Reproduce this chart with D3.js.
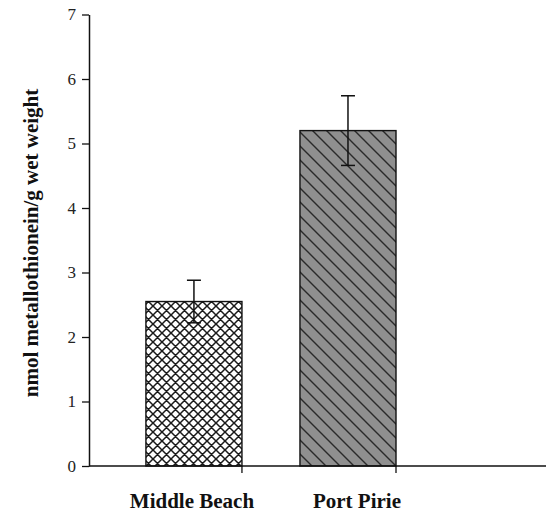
<!DOCTYPE html>
<html>
<head>
<meta charset="utf-8">
<script src="https://cdn.jsdelivr.net/npm/d3@7"></script>
<style>
    body { margin: 0; background: #fff; }
    text { font-family: 'Liberation Serif', 'Times New Roman', serif; }
</style>
</head>
<body>
<svg id="chart" width="546" height="515"></svg>
<script>
const sites = ['Middle Beach', 'Port Pirie'];
const means = [2.55, 5.2];
const errors = [0.33, 0.54];
const yTicks = [0, 1, 2, 3, 4, 5, 6, 7];

const svg = d3.select('#chart');
const defs = svg.append('defs');

// crosshatch for Middle Beach
const cross = defs.append('pattern')
    .attr('id', 'cross')
    .attr('patternUnits', 'userSpaceOnUse')
    .attr('width', 9)
    .attr('height', 9);
cross.append('rect').attr('width', 9).attr('height', 9).attr('fill', '#fff');
cross.append('path')
    .attr('d', 'M0,0L9,9M9,0L0,9M-1,8L1,10M8,-1L10,1M-1,1L1,-1M8,10L10,8')
    .attr('stroke', '#1a1a1a')
    .attr('stroke-width', 1.5);

// diagonal hatch on grey for Port Pirie
const hatch = defs.append('pattern')
    .attr('id', 'hatch')
    .attr('patternUnits', 'userSpaceOnUse')
    .attr('width', 14)
    .attr('height', 14);
hatch.append('rect').attr('width', 14).attr('height', 14).attr('fill', '#8f8f8f');
hatch.append('path')
    .attr('d', 'M0,0L14,14M-7,7L7,21M7,-7L21,7')
    .attr('stroke', '#2a2a2a')
    .attr('stroke-width', 1.4);

const fills = ['url(#cross)', 'url(#hatch)'];

const y = d3.scaleLinear().domain([0, 7]).range([466, 14.5]);

const x = d3.scaleBand()
    .domain(sites)
    .range([88, 396])
    .paddingInner(0.3766)
    .paddingOuter(0.188)
    .align(1);

// y axis
const axisY = d3.axisLeft(y)
    .tickValues(yTicks)
    .tickFormat(d3.format('d'))
    .tickSizeInner(7)
    .tickSizeOuter(0)
    .tickPadding(6);

const gy = svg.append('g')
    .attr('class', 'axis axis-y')
    .attr('transform', 'translate(89,0)')
    .call(axisY)
    .attr('font-family', null)
    .attr('font-size', null);
gy.select('.domain').attr('stroke', '#111').attr('stroke-width', 1.5);
gy.selectAll('.tick line').attr('stroke', '#111').attr('stroke-width', 1.3);
gy.selectAll('.tick text')
    .attr('font-size', 17)
    .attr('fill', '#222');

// bars
const data = sites.map((s, i) => ({ site: s, mean: means[i], err: errors[i], fill: fills[i] }));

svg.append('g').selectAll('rect')
    .data(data)
    .enter()
    .append('rect')
    .attr('x', (d) => x(d.site))
    .attr('y', (d) => y(d.mean))
    .attr('width', x.bandwidth())
    .attr('height', (d) => y(0) - y(d.mean))
    .attr('fill', (d) => d.fill)
    .attr('stroke', '#111')
    .attr('stroke-width', 1.4);

// error bars
const eb = svg.append('g').selectAll('g')
    .data(data)
    .enter()
    .append('g')
    .attr('stroke', '#111')
    .attr('stroke-width', 1.5);

const cx = (d) => x(d.site) + x.bandwidth() / 2;

eb.append('line')
    .attr('x1', cx).attr('x2', cx)
    .attr('y1', (d) => y(d.mean + d.err))
    .attr('y2', (d) => y(d.mean - d.err));
eb.append('line')
    .attr('x1', (d) => cx(d) - 7).attr('x2', (d) => cx(d) + 7)
    .attr('y1', (d) => y(d.mean + d.err))
    .attr('y2', (d) => y(d.mean + d.err));
eb.append('line')
    .attr('x1', (d) => cx(d) - 7).attr('x2', (d) => cx(d) + 7)
    .attr('y1', (d) => y(d.mean - d.err))
    .attr('y2', (d) => y(d.mean - d.err));

// x axis
const gx = svg.append('g').attr('class', 'axis axis-x');
gx.append('line')
    .attr('x1', 89).attr('x2', 546)
    .attr('y1', y(0)).attr('y2', y(0))
    .attr('stroke', '#111')
    .attr('stroke-width', 1.5);
gx.selectAll('.tick')
    .data(sites)
    .enter()
    .append('line')
    .attr('class', 'tick')
    .attr('x1', (d) => x(d) + x.bandwidth())
    .attr('x2', (d) => x(d) + x.bandwidth())
    .attr('y1', y(0))
    .attr('y2', y(0) + 7)
    .attr('stroke', '#111')
    .attr('stroke-width', 1.3);
gx.selectAll('.label')
    .data(sites)
    .enter()
    .append('text')
    .attr('class', 'label')
    .attr('x', (d, i) => cx({ site: d }) + (i === 1 ? 9 : -2))
    .attr('y', 508)
    .attr('text-anchor', 'middle')
    .attr('font-size', 21)
    .attr('font-weight', 'bold')
    .attr('fill', '#111')
    .text((d) => d);

// y title
svg.append('text')
    .attr('transform', 'translate(38,243) rotate(-90)')
    .attr('text-anchor', 'middle')
    .attr('font-size', 21)
    .attr('font-weight', 'bold')
    .attr('fill', '#111')
    .text('nmol metallothionein/g wet weight');
</script>
</body>
</html>
